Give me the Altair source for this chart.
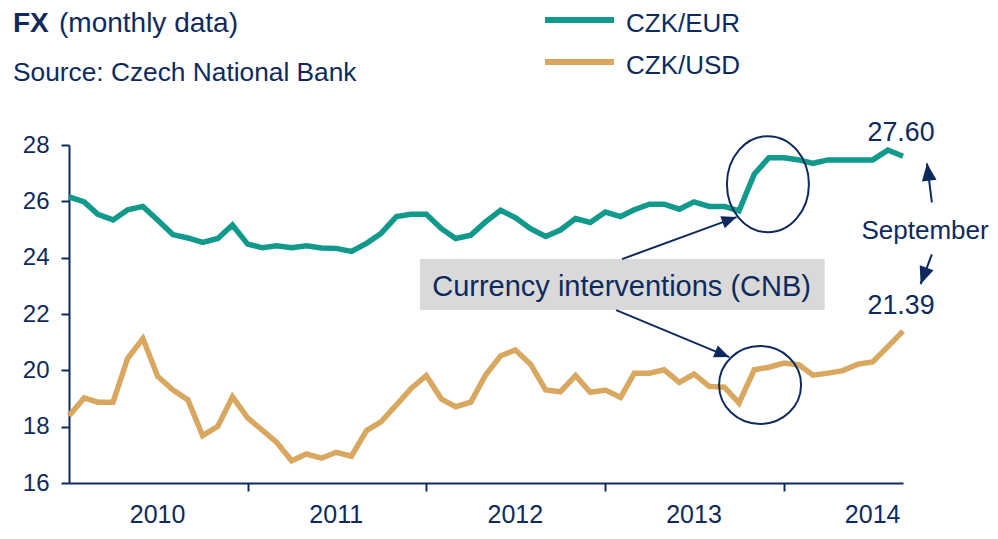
import altair as alt
import pandas as pd

# ---------------- data ----------------
months = pd.date_range("2010-01-01", periods=57, freq="MS")
series_names = ["CZK/EUR", "CZK/USD"]
colors = ["#11998B", "#D8A860"]
navy = "#0E2A5C"
font = "Liberation Sans"

czk_eur = [26.16, 25.98, 25.54, 25.34, 25.70, 25.82, 25.34, 24.82, 24.70, 24.54, 24.68, 25.16,
           24.48, 24.35, 24.42, 24.35, 24.42, 24.34, 24.33, 24.22, 24.51, 24.87, 25.46, 25.54,
           25.54, 25.03, 24.68, 24.80, 25.27, 25.68, 25.42, 25.03, 24.75, 24.98, 25.39, 25.25,
           25.62, 25.46, 25.70, 25.90, 25.90, 25.72, 25.98, 25.82, 25.82, 25.66, 26.96, 27.55,
           27.55, 27.47, 27.35, 27.47, 27.47, 27.47, 27.47, 27.82, 27.60]
czk_usd = [18.39, 19.02, 18.87, 18.87, 20.43, 21.13, 19.79, 19.31, 18.95, 17.68, 18.01, 19.06,
           18.31, 17.86, 17.45, 16.79, 17.03, 16.88, 17.09, 16.95, 17.86, 18.18, 18.77, 19.36,
           19.81, 18.98, 18.71, 18.87, 19.83, 20.52, 20.72, 20.22, 19.30, 19.24, 19.81, 19.22,
           19.30, 19.04, 19.90, 19.90, 20.02, 19.57, 19.87, 19.43, 19.40, 18.84, 20.02, 20.11,
           20.26, 20.19, 19.83, 19.90, 19.99, 20.22, 20.30, 20.84, 21.39]

year_labels = ["2010", "2011", "2012", "2013", "2014"]
y_ticks = [16, 18, 20, 22, 24, 26, 28]

# annotation anchors (data coordinates)
box_x = ["2011-12-19", "2014-03-25"]
box_y = [23.95, 22.14]
ellipse_x = ["2013-11-29", "2013-11-13"]
ellipse_y = [26.61, 19.48]
arrow_x = ["2013-02-04", "2013-01-23", "2014-10-30", "2014-10-30"]
arrow_y = [23.95, 22.14, 25.96, 24.12]
arrow_x2 = ["2013-09-26", "2013-09-11", "2014-10-20", "2014-10-07"]
arrow_y2 = [25.44, 20.47, 27.35, 23.06]
arrow_angle = [69.9, 112.6, 352.7, 200.1]
arrow_size = [900, 900, 1225, 1225]
label_x = ["2013-02-03", "2014-08-28", "2014-08-28", "2014-10-16"]
label_y = [22.63, 28.14, 21.99, 24.68]
label_text = ["Currency interventions (CNB)", f"{czk_eur[-1]:.2f}", f"{czk_usd[-1]:.2f}", "September"]
label_size = [29, 26.8, 26.8, 26]


def ellipse_path(a, b):
    k = 0.5523
    return (f"M {a} 0 C {a} {b*k:.4f} {a*k:.4f} {b} 0 {b} "
            f"C {-a*k:.4f} {b} {-a} {b*k:.4f} {-a} 0 "
            f"C {-a} {-b*k:.4f} {-a*k:.4f} {-b} 0 {-b} "
            f"C {a*k:.4f} {-b} {a} {-b*k:.4f} {a} 0 Z")


arrow_head = "M 0 0 L 0.42 1 L -0.42 1 Z"

# ---------------- tables ----------------
df = pd.DataFrame({
    "date": list(months) * 2,
    "value": czk_eur + czk_usd,
    "series": [series_names[0]] * len(czk_eur) + [series_names[1]] * len(czk_usd),
})

box_df = pd.DataFrame({"x": [pd.Timestamp(box_x[0])], "x2": [pd.Timestamp(box_x[1])],
                       "y": [box_y[0]], "y2": [box_y[1]]})
ell_df = pd.DataFrame({"x": pd.to_datetime(ellipse_x), "y": ellipse_y,
                       "shape": [ellipse_path(0.854, 1.0), ellipse_path(1.0, 0.951)],
                       "size": [9216, 6724]})
arr_df = pd.DataFrame({"x": pd.to_datetime(arrow_x), "y": arrow_y,
                       "x2": pd.to_datetime(arrow_x2), "y2": arrow_y2,
                       "angle": arrow_angle, "hs": arrow_size})
lab_df = pd.DataFrame({"x": pd.to_datetime(label_x), "y": label_y,
                       "label": label_text, "fs": label_size})
year_df = pd.DataFrame({"x": pd.to_datetime([f"{y}-07-01" for y in year_labels]),
                        "label": year_labels})

# ---------------- scales / axes ----------------
x_scale = alt.Scale(domain=[alt.DateTime(year=2010, month=1, date=1),
                            alt.DateTime(year=2014, month=9, date=1)])
y_scale = alt.Scale(domain=[16, 28], nice=False, zero=False)

x_axis = alt.Axis(values=[alt.DateTime(year=y, month=1, date=1) for y in [2011, 2012, 2013, 2014]],
                  labels=False, tickSize=8, tickWidth=2, tickColor=navy,
                  domainColor=navy, domainWidth=2, grid=False, title=None)
y_axis = alt.Axis(values=y_ticks, tickSize=8, tickWidth=2, tickColor=navy,
                  domainColor=navy, domainWidth=2, grid=False, title=None,
                  labelFontSize=24, labelColor=navy, labelFont=font, labelPadding=12)

lines = alt.Chart(df).mark_line(strokeWidth=5.5).encode(
    x=alt.X("date:T", scale=x_scale, axis=x_axis, title=None),
    y=alt.Y("value:Q", scale=y_scale, axis=y_axis, title=None),
    color=alt.Color("series:N", scale=alt.Scale(domain=series_names, range=colors), legend=None),
)

box = alt.Chart(box_df).mark_rect(color="#D9D9D9").encode(
    x=alt.X("x:T", title=None), x2="x2:T", y=alt.Y("y:Q", title=None), y2="y2:Q")

ellipses = alt.Chart(ell_df).mark_point(filled=False, color=navy, strokeWidth=2, opacity=1).encode(
    x=alt.X("x:T", title=None), y=alt.Y("y:Q", title=None),
    shape=alt.Shape("shape:N", scale=None, legend=None),
    size=alt.Size("size:Q", scale=None, legend=None))

arrow_lines = alt.Chart(arr_df).mark_rule(color=navy, strokeWidth=2).encode(
    x=alt.X("x:T", title=None), y=alt.Y("y:Q", title=None), x2="x2:T", y2="y2:Q")

arrow_heads = alt.Chart(arr_df).mark_point(shape=arrow_head, filled=True, color=navy, opacity=1,
                                           strokeWidth=0).encode(
    x=alt.X("x2:T", title=None), y=alt.Y("y2:Q", title=None),
    angle=alt.Angle("angle:Q", scale=None),
    size=alt.Size("hs:Q", scale=None, legend=None))

labels = alt.Chart(lab_df).mark_text(align="center", baseline="alphabetic", color=navy, font=font).encode(
    x=alt.X("x:T", title=None), y=alt.Y("y:Q", title=None), text="label:N",
    size=alt.Size("fs:Q", scale=None, legend=None))

years = alt.Chart(year_df).mark_text(align="center", baseline="alphabetic", color=navy,
                                     font=font, fontSize=25).encode(
    x=alt.X("x:T", title=None), y=alt.value(378), text="label:N")

title_fx = alt.Chart(pd.DataFrame({"t": ["FX"]})).mark_text(
    align="left", baseline="alphabetic", color=navy, font=font, fontSize=28, fontWeight="bold").encode(
    x=alt.value(-56), y=alt.value(-113), text="t:N")
title_rest = alt.Chart(pd.DataFrame({"t": ["(monthly data)"]})).mark_text(
    align="left", baseline="alphabetic", color=navy, font=font, fontSize=28).encode(
    x=alt.value(-10), y=alt.value(-113), text="t:N")
source = alt.Chart(pd.DataFrame({"t": ["Source: Czech National Bank"]})).mark_text(
    align="left", baseline="alphabetic", color=navy, font=font, fontSize=26.3).encode(
    x=alt.value(-56), y=alt.value(-64), text="t:N")

legend_layers = []
for i, (name, col) in enumerate(zip(series_names, colors)):
    legend_layers.append(
        alt.Chart(pd.DataFrame({"t": [name]})).mark_rule(color=col, strokeWidth=6).encode(
            x=alt.value(476), x2=alt.value(545), y=alt.value(-125 + 42 * i)))
    legend_layers.append(
        alt.Chart(pd.DataFrame({"t": [name]})).mark_text(
            align="left", baseline="alphabetic", color=navy, font=font, fontSize=26).encode(
            x=alt.value(557), y=alt.value(-113 + 41.6 * i), text="t:N"))

chart = alt.layer(
    lines, box, ellipses, arrow_lines, arrow_heads, labels, years,
    title_fx, title_rest, source, *legend_layers,
).properties(
    width=834, height=338,
    padding={"left": 61, "top": 137, "right": 87, "bottom": 48},
    autosize=alt.AutoSizeParams(type="none"),
).configure_view(stroke=None)

chart.save("out.html", embed_options={"renderer": "svg", "actions": False})
